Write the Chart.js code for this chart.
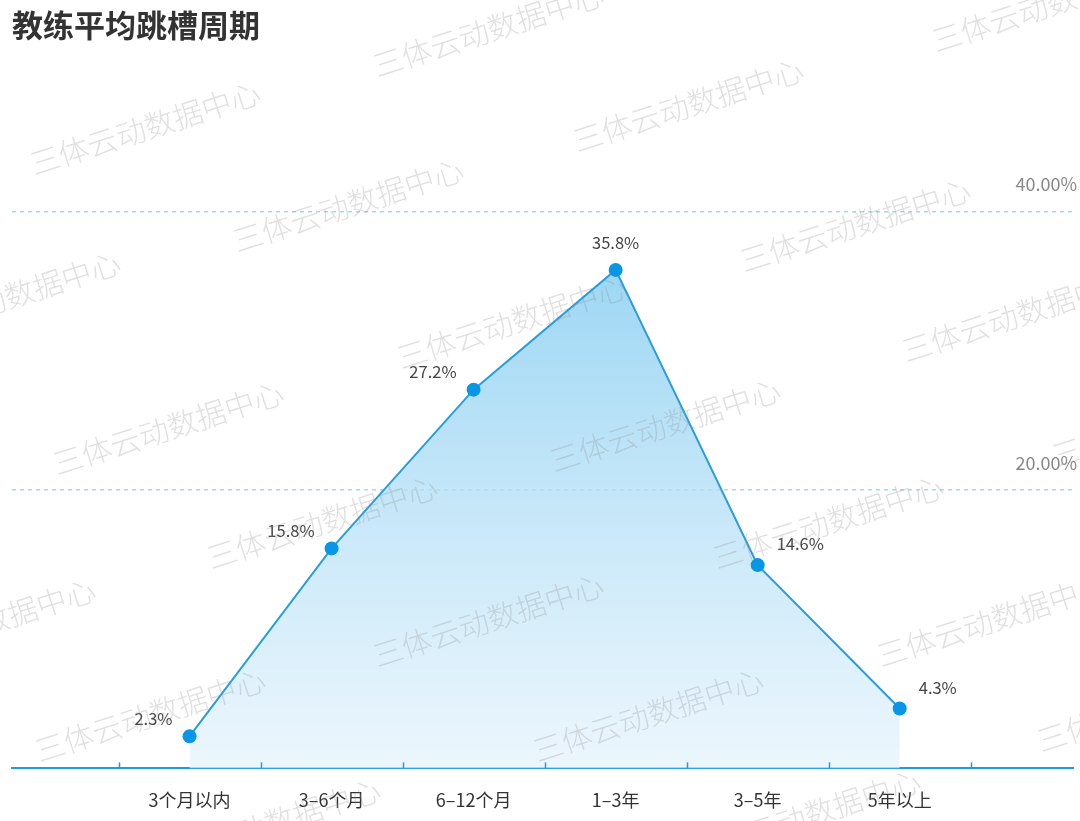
<!DOCTYPE html>
<html>
<head>
<meta charset="utf-8">
<script src="https://cdn.jsdelivr.net/npm/chart.js@4/dist/chart.umd.min.js"></script>
<style>
  html, body { margin: 0; padding: 0; background: #ffffff; }
  #chartBox { width: 1080px; height: 821px; }
</style>
</head>
<body>
<div id="chartBox"><canvas id="hopChart" width="1080" height="821"></canvas></div>
<script>
// ============================================================================
// DATA
// ============================================================================

const chartTitle = '教练平均跳槽周期';
const categories = ['3个月以内', '3–6个月', '6–12个月', '1–3年', '3–5年', '5年以上'];
const shares = [2.3, 15.8, 27.2, 35.8, 14.6, 4.3];
const yTickValues = [0, 20, 40];
const watermarkText = '三体云动数据中心';

const FONT = "'Noto Sans CJK SC', 'Noto Sans', sans-serif";

// ============================================================================
// PLUGINS
// ============================================================================

/**
 * Small tick marks between the categories, sitting on top of the axis line
 */
const bandTicks = {
    id: 'bandTicks',
    afterDraw(chart) {
        const { ctx } = chart;
        const x = chart.scales.x;
        const base = chart.scales.y.getPixelForValue(0);
        ctx.save();
        ctx.strokeStyle = '#1e9be0';
        ctx.lineWidth = 1.5;
        for (let i = 0; i <= categories.length; i++) {
            const px = Math.round(x.getPixelForValue(i - 0.5)) + 0.5;
            ctx.beginPath();
            ctx.moveTo(px, base);
            ctx.lineTo(px, base - 6);
            ctx.stroke();
        }
        ctx.restore();
    }
};

/**
 * Value labels next to every point: left of the rising side, right of the falling side
 */
const pointLabels = {
    id: 'pointLabels',
    afterDatasetsDraw(chart) {
        const { ctx } = chart;
        const meta = chart.getDatasetMeta(0);
        const peak = shares.indexOf(Math.max(...shares));
        ctx.save();
        ctx.font = `16.5px ${FONT}`;
        ctx.fillStyle = '#444444';
        ctx.textBaseline = 'middle';
        meta.data.forEach((pt, i) => {
            const text = shares[i].toFixed(1) + '%';
            if (i < peak) {
                ctx.textAlign = 'right';
                ctx.fillText(text, pt.x - 17, pt.y - 18);
            } else if (i === peak) {
                ctx.textAlign = 'center';
                ctx.fillText(text, pt.x, pt.y - 27);
            } else {
                ctx.textAlign = 'left';
                ctx.fillText(text, pt.x + 19, pt.y - 21);
            }
        });
        ctx.restore();
    }
};

/**
 * Repeated, tilted watermark drawn over everything
 */
const watermarkSpots = [
    [488, 30], [1047, 5], [145, 128], [688, 105], [348, 205], [855, 225],
    [5, 298], [512, 322], [1017, 315], [168, 428], [665, 425], [1167, 420],
    [322, 522], [828, 522], [-20, 625], [488, 620], [992, 620], [150, 715],
    [648, 715], [1152, 705], [265, 825], [805, 816]
];

const watermark = {
    id: 'watermark',
    afterDraw(chart) {
        const { ctx } = chart;
        ctx.save();
        ctx.font = `300 30px ${FONT}`;
        ctx.fillStyle = 'rgba(140, 140, 140, 0.27)';
        ctx.textAlign = 'center';
        ctx.textBaseline = 'middle';
        watermarkSpots.forEach(([wx, wy]) => {
            ctx.save();
            ctx.translate(wx, wy);
            ctx.rotate(-0.31);
            ctx.fillText(watermarkText, 0, 0);
            ctx.restore();
        });
        ctx.restore();
    }
};

// ============================================================================
// CHART
// ============================================================================

function areaGradient(context) {
    const { chart } = context;
    const area = chart.chartArea;
    if (!area) return 'rgba(120, 200, 240, 0.5)';
    const top = chart.scales.y.getPixelForValue(Math.max(...shares));
    const g = chart.ctx.createLinearGradient(0, top, 0, area.bottom);
    g.addColorStop(0, 'rgba(140, 208, 242, 0.85)');
    g.addColorStop(1, 'rgba(228, 242, 252, 0.7)');
    return g;
}

new Chart(document.getElementById('hopChart'), {
    type: 'line',
    data: {
        datasets: [{
            data: categories.map((c, i) => ({ x: i, y: shares[i] })),
            borderColor: '#2a9ddb',
            borderWidth: 2,
            tension: 0,
            fill: 'origin',
            backgroundColor: areaGradient,
            pointRadius: 7,
            pointHoverRadius: 7,
            pointBorderWidth: 0,
            pointBackgroundColor: '#0a96e6'
        }]
    },
    options: {
        responsive: false,
        animation: false,
        layout: { padding: { left: 12, right: -2, top: 0, bottom: -11 } },
        plugins: {
            legend: { display: false },
            tooltip: { enabled: false },
            title: {
                display: true,
                text: chartTitle,
                align: 'start',
                color: '#333333',
                font: { family: FONT, size: 31, weight: 'bold' },
                padding: { top: 7, bottom: 28 }
            }
        },
        scales: {
            x: {
                type: 'linear',
                min: -1.25,
                max: 6.22,
                afterBuildTicks: axis => {
                    axis.ticks = categories.map((c, i) => ({ value: i }));
                },
                grid: { display: false, drawTicks: false },
                border: { display: true, color: '#1e9be0', width: 2 },
                ticks: {
                    autoSkip: false,
                    maxRotation: 0,
                    padding: 21,
                    color: '#333333',
                    font: { family: FONT, size: 18 },
                    callback: v => categories[v] ?? ''
                }
            },
            y: {
                position: 'right',
                min: 0,
                max: 50,
                afterBuildTicks: axis => {
                    axis.ticks = yTickValues.map(v => ({ value: v }));
                },
                grid: {
                    drawTicks: false,
                    color: ctx => (ctx.tick && ctx.tick.value === 0) ? 'rgba(0,0,0,0)' : '#a6daf0',
                    lineWidth: 1.5
                },
                border: { display: false, dash: [4, 4] },
                ticks: {
                    mirror: true,
                    padding: 4,
                    labelOffset: -27,
                    color: '#888888',
                    font: { family: FONT, size: 18 },
                    callback: v => v === 0 ? '' : v.toFixed(2) + '%'
                }
            }
        }
    },
    plugins: [bandTicks, pointLabels, watermark]
});
</script>
</body>
</html>
